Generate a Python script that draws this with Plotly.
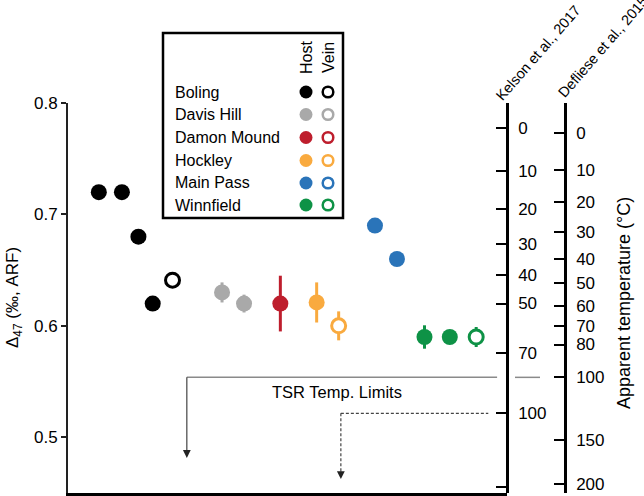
import plotly.graph_objects as go

W, H = 644, 496
FONT = "Liberation Sans, Arial, Helvetica, sans-serif"

# ---------------- data ----------------
localities = ["Boling", "Davis Hill", "Damon Mound", "Hockley", "Main Pass", "Winnfield"]
colors = ["#000000", "#a9a9a9", "#be1e2d", "#f9aa3f", "#2a74b9", "#0e9246"]

host_x = {
    "Boling": [1.4, 2.45, 3.2, 3.85],
    "Davis Hill": [7.0, 8.0],
    "Damon Mound": [9.65],
    "Hockley": [11.3],
    "Main Pass": [13.95, 14.95],
    "Winnfield": [16.2, 17.35],
}
host_y = {
    "Boling": [0.72, 0.72, 0.68, 0.62],
    "Davis Hill": [0.63, 0.62],
    "Damon Mound": [0.62],
    "Hockley": [0.621],
    "Main Pass": [0.69, 0.66],
    "Winnfield": [0.59, 0.59],
}
host_err = {
    "Boling": [0, 0, 0, 0],
    "Davis Hill": [0.009, 0.008],
    "Damon Mound": [0.025],
    "Hockley": [0.018],
    "Main Pass": [0, 0],
    "Winnfield": [0.0105, 0],
}
vein_x = {"Boling": [4.75], "Hockley": [12.3], "Winnfield": [18.55]}
vein_y = {"Boling": [0.641], "Hockley": [0.6], "Winnfield": [0.59]}
vein_err = {"Boling": [0], "Hockley": [0.013], "Winnfield": [0.009]}

kelson_ticks = [0, 10, 20, 30, 40, 50, 70, 100, 150]
defliese_ticks = [0, 10, 20, 30, 40, 50, 60, 70, 80, 100, 150, 200]
tsr_limit_c = 100


# calibrations (Delta47 = A*1e6/T^2 + B), used as axis scales
def kelson(tc):
    return 0.04115e6 / (tc + 273.15) ** 2 + 0.226


def defliese(tc):
    return 0.03524e6 / (tc + 273.15) ** 2 + 0.3007


def px(x):
    return x / W


def py(y):
    return 1 - y / H


fig = go.Figure()

for name, col in zip(localities, colors):
    fig.add_trace(go.Scatter(
        x=host_x[name], y=host_y[name], mode="markers",
        marker=dict(size=16, color=col, line=dict(width=0)),
        error_y=dict(type="data", array=host_err[name], color=col, thickness=3, width=0),
        showlegend=False, hoverinfo="skip"))
    if name in vein_x:
        fig.add_trace(go.Scatter(
            x=vein_x[name], y=vein_y[name], mode="markers",
            marker=dict(size=14, color="white", line=dict(width=3, color=col)),
            error_y=dict(type="data", array=vein_err[name], color=col, thickness=3, width=0),
            showlegend=False, hoverinfo="skip"))

# dummy traces to bring up the extra y axes
fig.add_trace(go.Scatter(x=[None], y=[None], yaxis="y2", showlegend=False))
fig.add_trace(go.Scatter(x=[None], y=[None], yaxis="y3", showlegend=False))

yr = [0.45, 0.8]
x_dom = [px(68), px(507)]
y_dom = [py(493), py(103)]

fig.update_layout(
    template="none",
    width=W, height=H,
    margin=dict(l=0, r=0, t=0, b=0, autoexpand=False),
    paper_bgcolor="white", plot_bgcolor="white",
    font=dict(family=FONT, size=17, color="black"),
    xaxis=dict(domain=x_dom, range=[0, 19.95], showgrid=False, zeroline=False,
               showticklabels=False, ticks="", showline=True, linecolor="black",
               linewidth=3, automargin=False),
    yaxis=dict(domain=y_dom, range=yr, showgrid=False, zeroline=False,
               tickvals=[0.5, 0.6, 0.7, 0.8], ticktext=["0.5", "0.6", "0.7", "0.8"],
               ticks="outside", ticklen=5, tickwidth=2, tickcolor="#222",
               showline=True, linecolor="#222", linewidth=2,
               tickfont=dict(size=17), automargin=False),
    yaxis2=dict(overlaying="y", anchor="free", position=px(507), side="right",
                range=yr, showgrid=False, zeroline=False,
                tickvals=[kelson(t) for t in kelson_ticks],
                ticktext=[str(t) for t in kelson_ticks],
                ticks="inside", ticklen=10, tickwidth=2, tickcolor="black",
                showline=True, linecolor="black", linewidth=2.5,
                ticklabelstandoff=6, tickfont=dict(size=17), automargin=False),
    yaxis3=dict(overlaying="y", anchor="free", position=px(565), side="right",
                range=yr, showgrid=False, zeroline=False,
                tickvals=[defliese(t) for t in defliese_ticks],
                ticktext=[str(t) for t in defliese_ticks],
                ticks="inside", ticklen=10, tickwidth=2, tickcolor="black",
                showline=True, linecolor="black", linewidth=2.5,
                ticklabelstandoff=6, tickfont=dict(size=17), automargin=False),
)

shapes = []
anns = []


def label(x, y, text, size=15, angle=0, xanchor="center"):
    anns.append(dict(x=px(x), y=py(y), xref="paper", yref="paper", text=text,
                     xanchor=xanchor, yanchor="middle", textangle=angle,
                     showarrow=False, font=dict(size=size)))


# TSR temperature limits
y_def = defliese(tsr_limit_c)
y_kel = kelson(tsr_limit_c)
x_solid = 5.4
x_dash = 12.4
shapes.append(dict(type="line", xref="x", yref="y", x0=x_solid, x1=19.5, y0=y_def, y1=y_def,
                   line=dict(color="#8a8a8a", width=1.5)))
shapes.append(dict(type="line", xref="paper", yref="y", x0=px(515), x1=px(540), y0=y_def, y1=y_def,
                   line=dict(color="#8a8a8a", width=1.5)))
shapes.append(dict(type="line", xref="x", yref="y", x0=x_solid, x1=x_solid, y0=y_def, y1=0.488,
                   line=dict(color="#444", width=1.2)))
shapes.append(dict(type="line", xref="x", yref="y", x0=x_dash, x1=19.1, y0=y_kel, y1=y_kel,
                   line=dict(color="#444", width=1.2, dash="3px,2px")))
shapes.append(dict(type="line", xref="x", yref="y", x0=x_dash, x1=x_dash, y0=y_kel, y1=0.469,
                   line=dict(color="#444", width=1.2, dash="3px,2px")))
anns.append(dict(x=x_solid, y=0.4815, xref="x", yref="y", text="", showarrow=True,
                 ax=0, ay=-9, arrowhead=2, arrowsize=1.3, arrowwidth=1.2, arrowcolor="#222", standoff=0))
anns.append(dict(x=x_dash, y=0.4625, xref="x", yref="y", text="", showarrow=True,
                 ax=0, ay=-9, arrowhead=2, arrowsize=1.3, arrowwidth=1.2, arrowcolor="#222", standoff=0))
label(337, 392, "TSR Temp. Limits", 16.5)

# Axis titles
label(14, 298, "Δ<sub>47</sub> (‰, ARF)", 17, -90)
label(624, 303, "Apparent temperature (°C)", 18, -90)
label(538, 53, "Kelson et al., 2017", 14.5, -49)
label(603, 47, "Defliese et al., 2015", 14.5, -49)

# Custom legend
shapes.append(dict(type="rect", xref="paper", yref="paper", x0=px(163), x1=px(343),
                   y0=py(33), y1=py(218), line=dict(color="black", width=2.5),
                   fillcolor="white", layer="below"))
label(306, 58, "Host", 16, -90)
label(328, 58, "Vein", 16, -90)
row_y = [92, 114.5, 137.5, 160.5, 183, 205]
for name, col, ry in zip(localities, colors, row_y):
    label(173, ry, name, 16, 0, "left")
    r = 6.5
    shapes.append(dict(type="circle", xref="paper", yref="paper",
                       x0=px(306 - r), x1=px(306 + r), y0=py(ry - r), y1=py(ry + r),
                       fillcolor=col, line=dict(width=0)))
    r2 = 5.3
    shapes.append(dict(type="circle", xref="paper", yref="paper",
                       x0=px(328 - r2), x1=px(328 + r2), y0=py(ry - r2), y1=py(ry + r2),
                       fillcolor="white", line=dict(width=2.5, color=col)))

fig.update_layout(shapes=shapes, annotations=anns)
fig.write_html("out.html", config={"displayModeBar": False},
               post_script="document.body.style.margin='0';")
